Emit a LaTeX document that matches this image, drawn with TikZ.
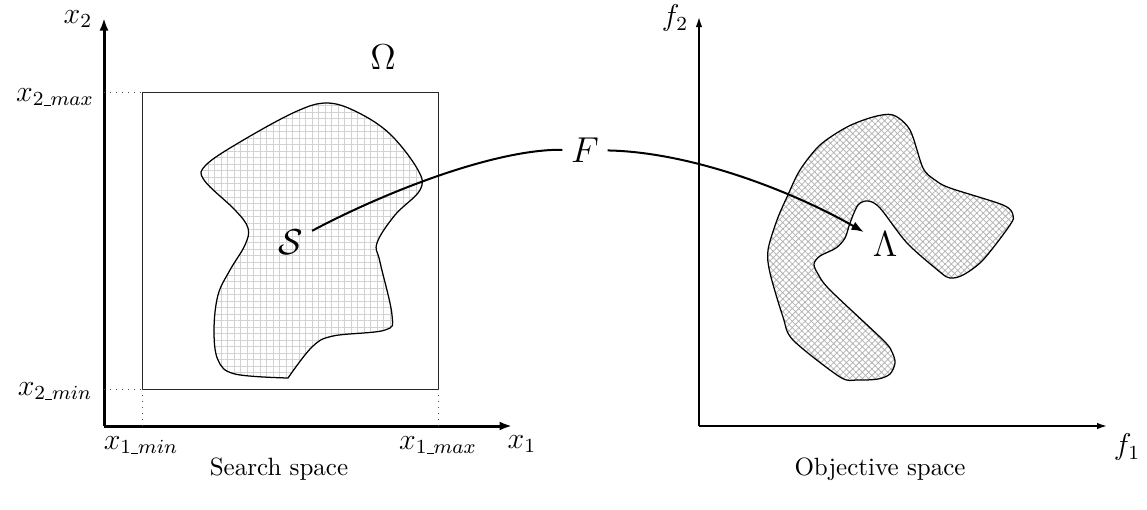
\documentclass[tikz,border=0pt]{standalone}
\usepackage{amsmath}
\usetikzlibrary{arrows.meta,patterns.meta}
\newcommand{\usc}{\text{\rule[-0.05ex]{0.35em}{0.3pt}}}
\begin{document}
\begin{tikzpicture}[x=0.4pt,y=-0.4pt,
  axisL/.style={line width=1.2pt,-{Latex[length=5pt,width=3.6pt]}},
  axisR/.style={line width=0.6pt,-{Latex[length=4pt,width=2.6pt]}},
  lbl/.style={inner sep=1pt,font=\large},
  big/.style={font=\fontsize{13.5}{16}\selectfont},
  guide/.style={dotted,line width=0.4pt,black!70},
  blob/.style={line width=0.5pt,draw=black},
  mapline/.style={line width=0.8pt}]
\useasboundingbox (0,0) rectangle (1147,509);

% ---------- Search space ----------
\coordinate (O1) at (104,426);
\coordinate (Y1) at (104,18);
\coordinate (X1) at (512,426);
\draw[axisL] (O1) -- (Y1);
\draw[axisL] (O1) -- (X1);

\coordinate (B1) at (142,389);
\coordinate (B2) at (438,92);
\draw[line width=0.4pt,black!85] (B1) rectangle (B2);
\draw[guide] (104,92) -- (142,92);
\draw[guide] (104,389) -- (142,389);
\draw[guide] (142,389) -- (142,426);
\draw[guide] (438,389) -- (438,426);

\draw[blob,pattern={Hatch[angle=0,distance=2.6pt,line width=0.4pt]},pattern color=gray!35]
  plot[smooth,tension=0.6] coordinates {
   (288,378) (312,347) (333,336) (385,330) (392,315) (380,262) (377,243)
   (395,215) (420,190) (418,170) (390,134) (357,112) (327,103) (295,112)
   (240,142) (206,165) (204,180) (235,210) (248,228) (245,245) (230,270)
   (218,295) (214,330) (218,360) (235,374) (288,378)} -- cycle;

\node[lbl] (x2) at (78,19) {$x_2$};
\node[lbl] (x2max) at (55,97) {$x_{2\usc max}$};
\node[lbl] (x2min) at (55,391) {$x_{2\usc min}$};
\node[lbl] (x1min) at (141,445) {$x_{1\usc min}$};
\node[lbl] (x1max) at (438,445) {$x_{1\usc max}$};
\node[lbl] (x1) at (522,444) {$x_1$};
\node[big] (Om) at (383,57) {$\Omega$};
\node (cap1) at (279,469) {Search space};

% ---------- Objective space ----------
\coordinate (O2) at (699,426);
\coordinate (Y2) at (699,17);
\coordinate (X2) at (1107,426);
\draw[axisR] (O2) -- (Y2);
\draw[axisR] (O2) -- (X2);

\draw[blob,pattern={Hatch[angle=45,distance=1.8pt,line width=0.3pt]},pattern color=gray!60]
  plot[smooth cycle,tension=0.5] coordinates {
   (893,115) (910,130) (923,168) (935,180) (950,188) (1003,205) (1013,215)
   (1010,225) (983,260) (963,275) (950,278) (940,272) (907,243) (880,208)
   (868,201) (858,205) (850,223) (845,238) (836,248) (820,256) (814,264)
   (818,274) (830,290) (883,340) (892,352) (895,363) (890,374) (878,379)
   (857,380) (840,377) (793,340) (783,317) (770,273) (768,250) (777,220)
   (787,197) (800,170) (820,145) (847,127) (873,117)};

\node[lbl] (f2) at (675,18) {$f_2$};
\node[lbl] (f1) at (1127,447) {$f_1$};
\node (cap2) at (880,469) {Objective space};

% ---------- mapping ----------
\node[big] (S) at (291,242) {$\mathcal{S}$};
\node[big] (F) at (585,150) {$F$};
\node[big] (L) at (885,244) {$\Lambda$};
\draw[mapline] (S) .. controls (385,192) and (495,149) .. (F);
\draw[mapline,-{Latex[length=5pt,width=3.6pt]}] (F) .. controls (690,152) and (790,190) .. (L);
\end{tikzpicture}
\end{document}
